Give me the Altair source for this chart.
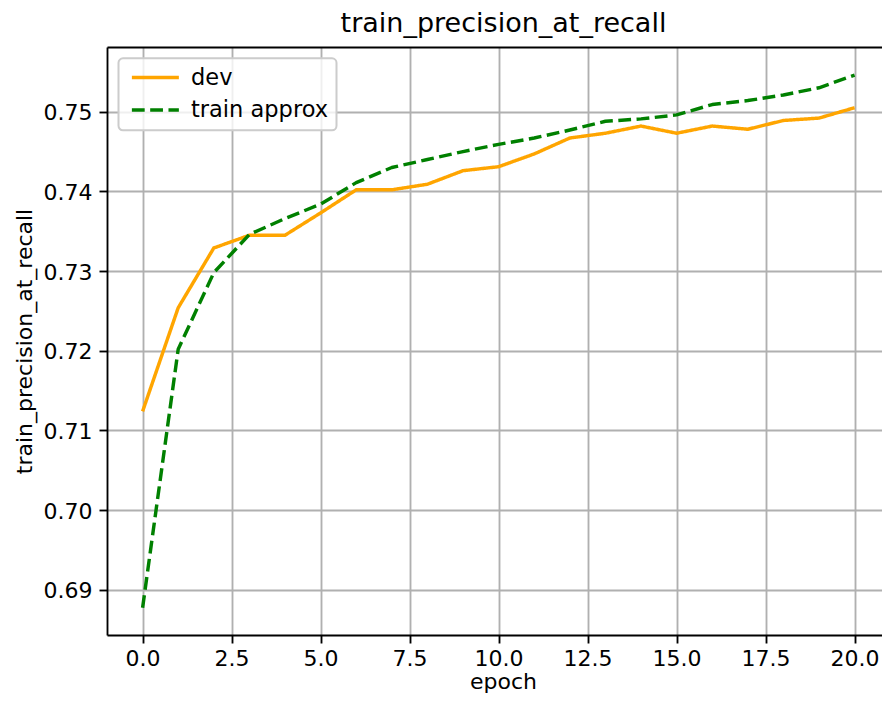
import altair as alt
import pandas as pd

# ---- data ----
epochs = list(range(21))
dev = [0.7124, 0.7254, 0.7329, 0.7345, 0.7345, 0.7373, 0.7402, 0.7402, 0.7409,
       0.7426, 0.7431, 0.7447, 0.7467, 0.7473, 0.7482, 0.7473, 0.7482, 0.7478,
       0.7489, 0.7492, 0.7505]
train_approx = [0.68775, 0.7202, 0.7298, 0.7346, 0.7366, 0.7384, 0.7411, 0.7430,
                0.7440, 0.7450, 0.7459, 0.7467, 0.7477, 0.7488, 0.7491, 0.7496,
                0.7509, 0.7514, 0.7521, 0.7530, 0.7546]
series_names = ["dev", "train approx"]
series_colors = ["#FFA500", "#008000"]
series_dashes = [[1, 0], [12.8, 5.5]]
x_ticks = [0, 2.5, 5, 7.5, 10, 12.5, 15, 17.5, 20]
y_ticks = [0.69, 0.70, 0.71, 0.72, 0.73, 0.74, 0.75]

rows = []
for e, d, t in zip(epochs, dev, train_approx):
    rows.append({"epoch": e, "value": d, "series": "dev"})
    rows.append({"epoch": e, "value": t, "series": "train approx"})
df = pd.DataFrame(rows)

FONT = "DejaVu Sans"
FS = 22
W, H = 775, 588
PX_PER_EPOCH = 35.6

x_scale = alt.Scale(domain=[-1, -1 + W / PX_PER_EPOCH], nice=False, zero=False)
y_scale = alt.Scale(domain=[0.68434, 0.75812], nice=False, zero=False)

legend = alt.Legend(
    title=None, orient="none", legendX=11.5, legendY=11.3,
    symbolType="M-1,0H7", symbolSize=138, symbolStrokeWidth=3.45,
    labelOffset=42, padding=8, rowPadding=9.5,
    labelFont=FONT, labelFontSize=22.5, labelColor="black", labelLimit=400,
    fillColor="rgba(255,255,255,0.8)", strokeColor="#cccccc", cornerRadius=4.5,
)

common_axis = dict(
    labelFont=FONT, labelFontSize=FS, labelColor="black",
    titleFont=FONT, titleFontSize=FS, titleColor="black", titleFontWeight="normal",
    tickColor="black", tickSize=8, tickWidth=1.85,
    domainColor="black", domainWidth=1.85,
    gridColor="#b0b0b0", gridWidth=1.85, labelOverlap=False, labelFlush=False,
)

lines = alt.Chart(df).mark_line(strokeWidth=3.45, strokeJoin="round").encode(
    x=alt.X("epoch:Q", scale=x_scale, axis=alt.Axis(
        values=x_ticks, format=".1f", title="epoch",
        titleX=396, titleY=53, titleBaseline="alphabetic", titleAlign="center",
        labelPadding=22, labelBaseline="alphabetic", **common_axis)),
    y=alt.Y("value:Q", scale=y_scale, axis=alt.Axis(
        values=y_ticks, format=".2f", title="train_precision_at_recall",
        titleX=-75.3, titleY=H / 2, titleAngle=270, titleBaseline="alphabetic",
        titleAlign="center", labelPadding=7, labelBaseline="alphabetic",
        labelOffset=8, **common_axis)),
    color=alt.Color("series:N", scale=alt.Scale(domain=series_names, range=series_colors),
                    legend=legend),
    strokeDash=alt.StrokeDash("series:N", scale=alt.Scale(domain=series_names, range=series_dashes),
                              legend=legend),
)

# top spine, carrying the chart title
top_spine = alt.Chart(df).mark_line(opacity=0).encode(
    x=alt.X("epoch:Q", scale=x_scale, axis=alt.Axis(
        orient="top", labels=False, ticks=False, grid=False, domain=True,
        title="train_precision_at_recall", titleFont=FONT, titleFontSize=27,
        titleFontWeight="normal", titleColor="black", titleX=396, titleY=-15.5,
        titleBaseline="alphabetic", titleAlign="center",
        domainColor="black", domainWidth=1.85)),
    y=alt.Y("value:Q", scale=y_scale, axis=None),
    detail="series:N",
)

chart = alt.layer(lines, top_spine).resolve_axis(x="independent", y="independent").properties(
    width=W, height=H,
    padding={"left": 99, "top": 39, "right": 0, "bottom": 59},
    autosize=alt.AutoSizeParams(type="none"),
).configure_view(stroke=None).configure_legend(strokeWidth=2)

chart.save("out.html", embed_options={"renderer": "svg", "actions": False})
